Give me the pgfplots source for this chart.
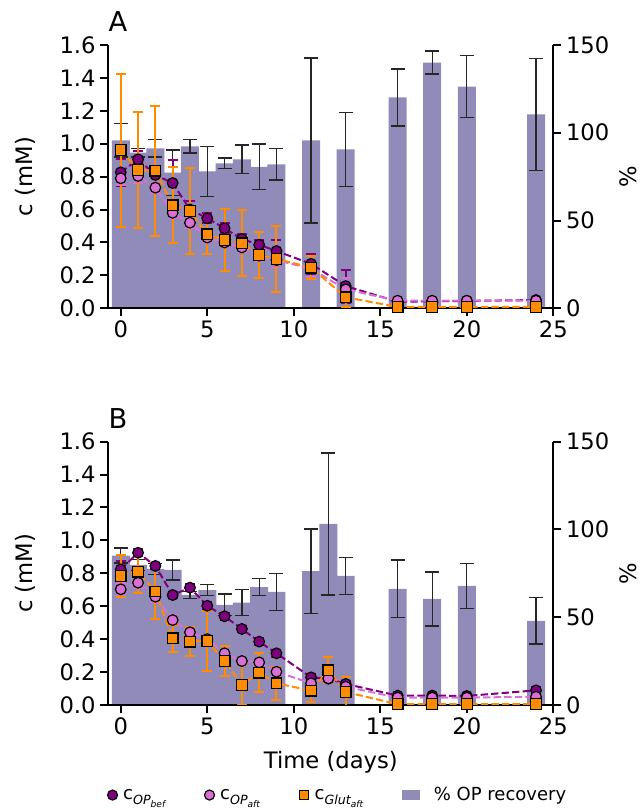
\documentclass[border=0pt]{standalone}
\usepackage{fontspec}
\setmainfont{DejaVu Sans}
\usepackage{pgfplots}
\usepackage{pgfplotstable}
\pgfplotsset{compat=1.18}

\definecolor{rec}{RGB}{72,61,139}
\definecolor{opbef}{RGB}{128,0,128}
\definecolor{opaft}{RGB}{218,112,214}
\definecolor{glut}{RGB}{255,140,0}

\newcommand{\tickfont}{\fontsize{17}{20}\selectfont}
\newcommand{\legfont}{\fontsize{13.5}{16}\selectfont}
\newcommand{\csub}[2]{c\raisebox{-0.3em}{\fontsize{9.5}{10}\selectfont\itshape #1\raisebox{-0.22em}{\fontsize{6.8}{7}\selectfont #2}}}

% recovery bars (%), panel A and B
\pgfplotstableread{
x y e
0 95.6 9.5
1 88.6 2.4
2 91.1 5.0
3 77.3 12.9
4 92.2 3.8
5 78.0 14.2
6 82.6 3.0
7 84.8 8.2
8 80.5 13.0
9 82.0 9.0
11 95.6 47.0
13 90.5 21.0
16 120.1 16.2
18 140.0 6.5
20 126.3 17.7
24 110.4 32.0
}\recA
\pgfplotstableread{
x y e
0 85.1 4.3
1 79.8 3.0
2 77.5 3.0
3 76.9 5.7
4 62.7 2.0
5 65.5 3.2
6 57.0 6.2
7 58.3 7.3
8 67.2 4.8
9 64.4 10.4
11 76.3 24.0
12 103.1 40.5
13 73.5 10.7
16 66.1 16.4
18 60.4 15.4
20 67.8 12.8
24 47.9 13.2
}\recB

% concentrations, panel A
\pgfplotstableread{
x y e
0 0.826 0.08
1 0.905 0.05
2 0.810 0.05
3 0.761 0.14
4 0.600 0.05
5 0.547 0.03
6 0.486 0.03
7 0.421 0.03
8 0.386 0.03
9 0.348 0.067
11 0.270 0.06
13 0.135 0.10
16 0.040 0.01
18 0.042 0.01
20 0.045 0.01
24 0.050 0.01
}\befA
\pgfplotstableread{
x y e
0 0.790 0.04
1 0.804 0.04
2 0.733 0.03
3 0.580 0.03
4 0.520 0.03
5 0.430 0.03
6 0.400 0.03
7 0.370 0.03
8 0.320 0.03
9 0.293 0.05
11 0.240 0.05
13 0.115 0.07
16 0.046 0.01
18 0.046 0.01
20 0.046 0.01
24 0.046 0.01
}\aftA
\pgfplotstableread{
x y e
0 0.961 0.465
1 0.840 0.35
2 0.836 0.395
3 0.626 0.23
4 0.591 0.26
5 0.449 0.12
6 0.415 0.19
7 0.395 0.20
8 0.324 0.14
9 0.300 0.20
11 0.247 0.07
13 0.067 0.06
16 0.008 0.005
18 0.008 0.005
20 0.008 0.005
24 0.008 0.005
}\glutA

% concentrations, panel B
\pgfplotstableread{
x y e
0 0.824 0.05
1 0.925 0.02
2 0.845 0.02
3 0.668 0.02
4 0.713 0.02
5 0.603 0.02
6 0.539 0.02
7 0.462 0.02
8 0.385 0.02
9 0.314 0.02
11 0.168 0.02
12 0.160 0.02
13 0.128 0.02
16 0.057 0.01
18 0.057 0.01
20 0.055 0.01
24 0.089 0.02
}\befB
\pgfplotstableread{
x y e
0 0.703 0.04
1 0.743 0.03
2 0.658 0.03
3 0.516 0.03
4 0.442 0.02
5 0.400 0.02
6 0.314 0.02
7 0.267 0.02
8 0.259 0.02
9 0.202 0.03
11 0.132 0.02
12 0.162 0.03
13 0.111 0.02
16 0.045 0.01
18 0.045 0.01
20 0.045 0.01
24 0.050 0.01
}\aftB
\pgfplotstableread{
x y e
0 0.784 0.13
1 0.810 0.13
2 0.690 0.17
3 0.405 0.08
4 0.385 0.09
5 0.389 0.18
6 0.267 0.09
7 0.122 0.12
8 0.196 0.12
9 0.132 0.10
11 0.087 0.07
12 0.211 0.08
13 0.079 0.09
16 0.005 0.005
18 0.005 0.005
20 0.005 0.005
24 0.005 0.005
}\glutB

\pgfplotsset{
  panel/.style={
    width=333.75pt, height=197.5pt, scale only axis,
    xmin=-0.72, xmax=25, ymin=0,
    tick align=outside, major tick length=6pt,
    every tick/.style={black, line width=1.5pt},
    axis line style={black, line width=1.5pt},
    tick label style={font=\tickfont},
    /pgf/number format/assume math mode=true,
  },
  barax/.style={panel, ymax=150,
    axis x line=none, axis y line*=right,
    ytick={0,50,100,150}, xtick=\empty},
  lineax/.style={panel, ymax=1.6,
    axis x line*=bottom, axis y line*=left,
    xtick={0,5,10,15,20,25},
    ytick={0,0.2,0.4,0.6,0.8,1.0,1.2,1.4,1.6},
    yticklabel style={/pgf/number format/.cd, fixed, fixed zerofill, precision=1}},
  recbar/.style={ybar, bar width=1.04, fill=rec, fill opacity=0.6, draw=none,
    error bars/.cd, y dir=both, y explicit,
    error bar style={draw=black!85, line width=1pt},
    error mark options={rotate=90, mark size=5.25pt, line width=1pt, draw=black!85}},
  ser/.style n args={2}{#1, line width=1.5pt, dash pattern=on 5.5pt off 2.4pt,
    mark=#2, mark size=4pt, mark options={solid, fill=#1, draw=black, line width=0.9pt},
    error bars/.cd, y dir=both, y explicit,
    error bar style={#1, solid, line width=1.5pt},
    error mark options={rotate=90, mark size=3.75pt, line width=1.5pt, #1, solid}},
}

\begin{document}
\begin{tikzpicture}
\path[use as bounding box] (0,0) rectangle (480.75pt,606.75pt);

% ---------- panel A ----------
\begin{axis}[barax, at={(81.225pt,375.525pt)}, anchor=south west]
\addplot[recbar] table[x=x, y=y, y error=e] {\recA};
\end{axis}
\begin{axis}[lineax, name=la, at={(81.225pt,375.525pt)}, anchor=south west]
\addplot[ser={opbef}{*}] table[x=x, y=y, y error=e] {\befA};
\addplot[ser={opaft}{*}] table[x=x, y=y, y error=e] {\aftA};
\addplot[ser={glut}{square*}] table[x=x, y=y, y error=e] {\glutA};
\end{axis}
\node[anchor=base west, inner sep=0pt, font=\fontsize{20.5}{24}\selectfont] at ([yshift=10pt]la.north west) {A};
\node[rotate=90, font=\tickfont] at ([xshift=-62.5pt]la.west) {c (mM)};
\node[rotate=90, font=\tickfont] at ([xshift=56pt]la.east) {\%};

% ---------- panel B ----------
\begin{axis}[barax, at={(81.225pt,78pt)}, anchor=south west]
\addplot[recbar] table[x=x, y=y, y error=e] {\recB};
\end{axis}
\begin{axis}[lineax, name=lb, at={(81.225pt,78pt)}, anchor=south west,
  legend style={at={(axis description cs:0.516,-0.342)}, anchor=center,
    draw=none, fill=none, font=\legfont, legend columns=4,
    /tikz/every even column/.append style={column sep=27pt}},
  legend cell align=left]
\addlegendimage{legend image code/.code={\draw[black, fill=opbef, line width=0.9pt] (0pt,0pt) circle (3.75pt); \path[draw=none] (0pt,0pt) -- (6pt,0pt);}}
\addlegendentry{\csub{OP}{bef}}
\addlegendimage{legend image code/.code={\draw[black, fill=opaft, line width=0.9pt] (0pt,0pt) circle (3.75pt); \path[draw=none] (0pt,0pt) -- (6pt,0pt);}}
\addlegendentry{\csub{OP}{aft}}
\addlegendimage{legend image code/.code={\draw[black, fill=glut, line width=0.9pt] (-3.6pt,-3.6pt) rectangle (3.6pt,3.6pt); \path[draw=none] (0pt,0pt) -- (6pt,0pt);}}
\addlegendentry{\csub{Glut}{aft}}
\addlegendimage{legend image code/.code={\path[draw=none, fill=rec, fill opacity=0.6] (0pt,-4pt) rectangle (13.5pt,4pt); \path[draw=none] (0pt,0pt) -- (22pt,0pt);}}
\addlegendentry{\% OP recovery}
\addplot[forget plot, ser={opbef}{*}] table[x=x, y=y, y error=e] {\befB};
\addplot[forget plot, ser={opaft}{*}] table[x=x, y=y, y error=e] {\aftB};
\addplot[forget plot, ser={glut}{square*}] table[x=x, y=y, y error=e] {\glutB};
\end{axis}
\node[anchor=base west, inner sep=0pt, font=\fontsize{20.5}{24}\selectfont] at ([yshift=10pt]lb.north west) {B};
\node[rotate=90, font=\tickfont] at ([xshift=-62.5pt]lb.west) {c (mM)};
\node[rotate=90, font=\tickfont] at ([xshift=56pt]lb.east) {\%};
\node[font=\tickfont] at ([yshift=-42.75pt]lb.south) {Time (days)};
\end{tikzpicture}
\end{document}
